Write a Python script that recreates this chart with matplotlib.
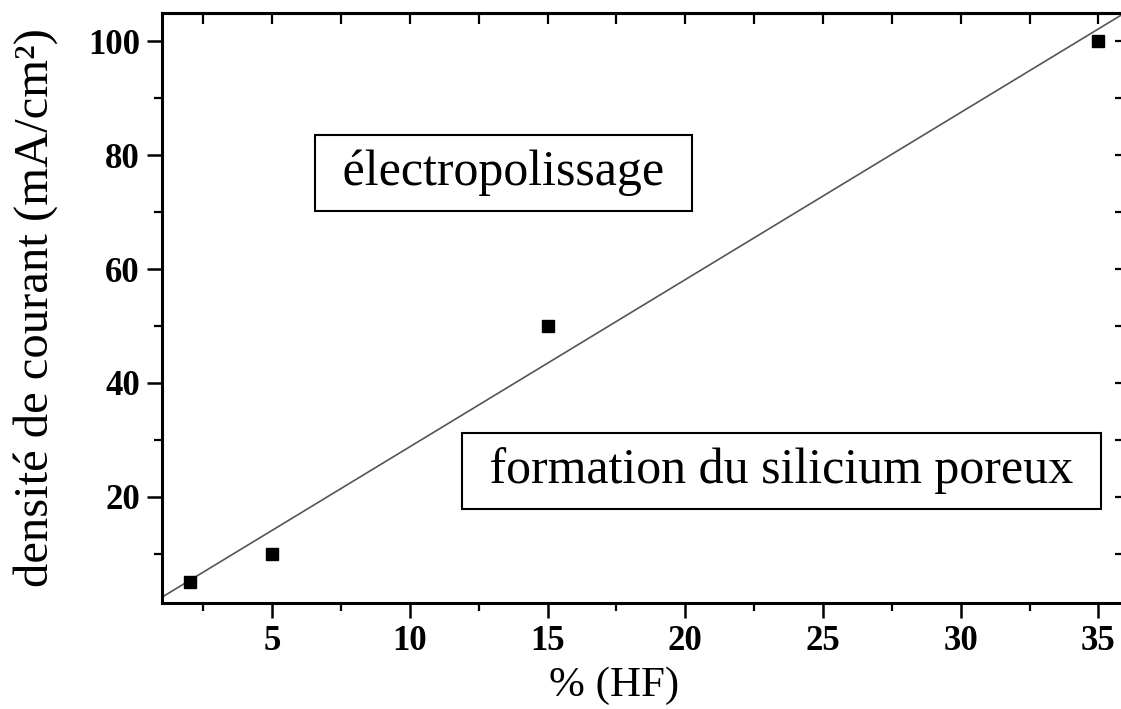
import numpy as np
import matplotlib.pyplot as plt
from matplotlib.ticker import MultipleLocator

plt.rcParams['font.family'] = ['Liberation Serif', 'DejaVu Serif']

# Concentration en HF et densité de courant critique
hf = np.array([2, 5, 15, 35])
densite = np.array([5, 10, 50, 100])

x_lim = (1.0, 36.0)
y_lim = (1.3, 105.0)

# Droite de séparation (ajustement linéaire)
pente, origine = np.polyfit(hf, densite, 1)
x_droite = np.array(x_lim)
y_droite = pente * x_droite + origine

fig = plt.figure(figsize=(11.21, 7.09), dpi=100)
ax = fig.add_axes([162 / 1121, 1 - 603 / 709, (1126 - 162) / 1121, (603 - 13) / 709])

ax.plot(x_droite, y_droite, color='#555555', linewidth=1.2)
ax.plot(hf, densite, 's', color='black', markersize=8.5)

ax.set_xlim(*x_lim)
ax.set_ylim(*y_lim)

ax.xaxis.set_major_locator(MultipleLocator(5))
ax.xaxis.set_minor_locator(MultipleLocator(2.5))
ax.yaxis.set_major_locator(MultipleLocator(20))
ax.yaxis.set_minor_locator(MultipleLocator(10))

ax.tick_params(which='major', direction='out', length=11, width=1.8, labelsize=25, pad=5)
ax.tick_params(which='minor', direction='out', length=6, width=1.6)
for lab in ax.get_xticklabels() + ax.get_yticklabels():
    lab.set_fontweight('bold')

# graduations intérieures en haut et à droite
haut = ax.secondary_xaxis('top')
haut.xaxis.set_major_locator(MultipleLocator(5))
haut.xaxis.set_minor_locator(MultipleLocator(2.5))
haut.tick_params(which='both', direction='in', length=8, width=1.6, labeltop=False)
droite = ax.secondary_yaxis('right')
droite.yaxis.set_major_locator(MultipleLocator(20))
droite.yaxis.set_minor_locator(MultipleLocator(10))
droite.tick_params(which='both', direction='in', length=8, width=1.6, labelright=False)

for sp in list(ax.spines.values()) + [haut.spines['top'], droite.spines['right']]:
    sp.set_linewidth(2.2)

ax.set_xlabel('% (HF)', fontsize=31)
ax.xaxis.set_label_coords(0.469, -0.108)
ax.set_ylabel('densité de courant (mA/cm²)', fontsize=35)
ax.yaxis.set_label_coords(-0.108, 0.5)

cadre = dict(boxstyle='square,pad=0.3', facecolor='white', edgecolor='black', linewidth=1.5)
ax.text(13.4, 76.9, ' électropolissage ', fontsize=36, ha='center', va='center', bbox=cadre)
ax.text(23.5, 24.5, ' formation du silicium poreux ', fontsize=36, ha='center', va='center', bbox=cadre)

fig.savefig('out.png', dpi=100)
